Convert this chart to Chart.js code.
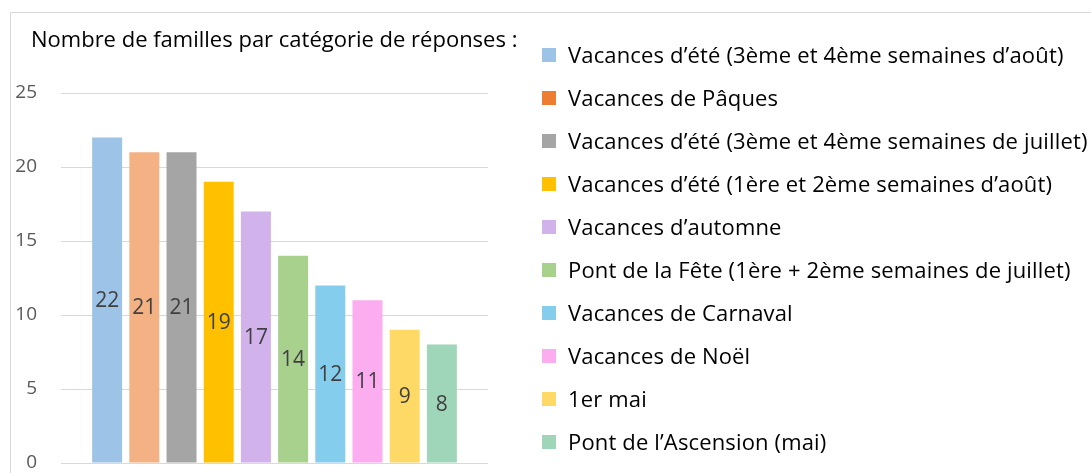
<!DOCTYPE html>
<html>
<head>
<meta charset="utf-8">
<script src="https://cdn.jsdelivr.net/npm/chart.js@4.4.1/dist/chart.umd.min.js"></script>
<style>
  html, body { margin: 0; padding: 0; background: #fff; }
  body { width: 1091px; height: 473px; position: relative; overflow: hidden; font-family: "Open Sans", "Liberation Sans", Arial, sans-serif; }
  #frame { position: absolute; left: 10px; top: 12px; width: 1200px; height: 600px; border: 1px solid #D9D9D9; box-sizing: border-box; }
  #title { position: absolute; left: 31px; top: 25px; font-size: 22px; line-height: 26px; color: #000; white-space: nowrap; }
  #wrap { position: absolute; left: 0; top: 0; width: 1091px; height: 473px; }
  #legend { position: absolute; left: 542px; top: 0; margin: 0; padding: 0; list-style: none; }
  #legend li { position: absolute; left: 0; height: 24px; white-space: nowrap; font-size: 22px; letter-spacing: 0.15px; line-height: 24px; color: #000; }
  #legend li span.box { position: absolute; left: 0; top: 6px; width: 14px; height: 14px; }
  #legend li span.txt { position: absolute; left: 26px; top: 0; }
</style>
</head>
<body>
<div id="frame"></div>
<div id="wrap"><canvas id="c" width="1091" height="473"></canvas></div>
<div id="title">Nombre de familles par catégorie de réponses :</div>
<ul id="legend"></ul>
<script>
const seriesNames = [
  "Vacances d\u2019été (3ème et 4ème semaines d\u2019août)",
  "Vacances de Pâques",
  "Vacances d\u2019été (3ème et 4ème semaines de juillet)",
  "Vacances d\u2019été (1ère et 2ème semaines d\u2019août)",
  "Vacances d\u2019automne",
  "Pont de la Fête (1ère + 2ème semaines de juillet)",
  "Vacances de Carnaval",
  "Vacances de Noël",
  "1er mai",
  "Pont de l\u2019Ascension (mai)"
];
const seriesValues = [22, 21, 21, 19, 17, 14, 12, 11, 9, 8];
const barColors = ["#9DC3E6", "#F4B183", "#A5A5A5", "#FFC000", "#D1B2EA", "#A9D18E", "#85CDEC", "#FBADEF", "#FFD966", "#9FD6B9"];
const legendColors = ["#9DC3E6", "#ED7D31", "#A5A5A5", "#FFC000", "#D1B2EA", "#A9D18E", "#85CDEC", "#FBADEF", "#FFD966", "#9FD6B9"];
const categories = [""];
const yTicks = [0, 5, 10, 15, 20, 25];

const FONT = '"Open Sans", "Liberation Sans", Arial, sans-serif';

const datasets = seriesNames.map((name, i) => ({
  label: name,
  data: [seriesValues[i]],
  backgroundColor: barColors[i],
  borderWidth: 0,
  categoryPercentage: 0.871,
  barPercentage: 0.806
}));

const valueLabels = {
  id: 'valueLabels',
  afterDatasetsDraw(chart) {
    const ctx = chart.ctx;
    ctx.save();
    ctx.font = '21px ' + FONT;
    ctx.fillStyle = '#404040';
    ctx.textAlign = 'center';
    ctx.textBaseline = 'middle';
    chart.data.datasets.forEach((ds, i) => {
      const meta = chart.getDatasetMeta(i);
      meta.data.forEach((bar, j) => {
        const p = bar.getProps(['x', 'y', 'base'], true);
        ctx.fillText(String(ds.data[j]), p.x, (p.y + p.base) / 2 + 1);
      });
    });
    ctx.restore();
  }
};

const chart = new Chart(document.getElementById('c'), {
  type: 'bar',
  data: { labels: categories, datasets },
  options: {
    responsive: false,
    animation: false,
    layout: { padding: { left: 14, right: 603, top: 93, bottom: 10 } },
    plugins: {
      legend: { display: false },
      title: { display: false },
      tooltip: { enabled: false }
    },
    scales: {
      x: { display: false },
      y: {
        min: 0, max: 25,
        afterBuildTicks(scale) { scale.ticks = yTicks.map(v => ({ value: v })); },
        afterFit(scale) { scale.width = 47; scale.paddingTop = 8; scale.paddingBottom = 8; },
        grid: { color: '#D9D9D9', lineWidth: 1, drawTicks: false },
        border: { display: false },
        ticks: {
          padding: 24,
          color: '#595959',
          font: { family: FONT, size: 19, lineHeight: 1 }
        }
      }
    }
  },
  plugins: [valueLabels]
});

// HTML legend generated from the chart's datasets
const legendEl = document.getElementById('legend');
chart.data.datasets.forEach((ds, i) => {
  const li = document.createElement('li');
  li.style.top = (55 + i * 43 - 13.2) + 'px';
  const box = document.createElement('span');
  box.className = 'box';
  box.style.background = legendColors[i];
  const txt = document.createElement('span');
  txt.className = 'txt';
  txt.textContent = ds.label;
  li.appendChild(box);
  li.appendChild(txt);
  legendEl.appendChild(li);
});
</script>
</body>
</html>
